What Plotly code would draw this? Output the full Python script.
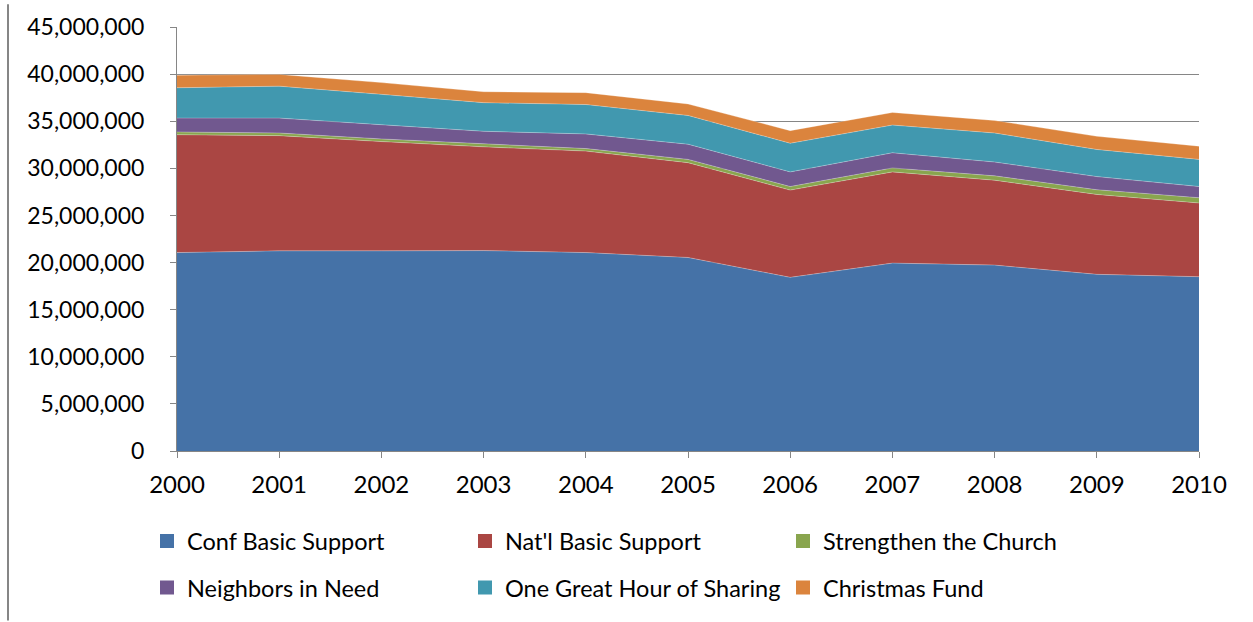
import plotly.graph_objects as go

years = [2000, 2001, 2002, 2003, 2004, 2005, 2006, 2007, 2008, 2009, 2010]
conf_basic = [21.06, 21.24, 21.24, 21.27, 21.06, 20.54, 18.43, 19.94, 19.73, 18.75, 18.50]
natl_basic = [12.51, 12.23, 11.60, 11.01, 10.77, 10.06, 9.26, 9.68, 9.01, 8.48, 7.82]
strengthen = [0.29, 0.28, 0.28, 0.32, 0.27, 0.35, 0.38, 0.42, 0.46, 0.50, 0.56]
neighbors = [1.47, 1.58, 1.51, 1.33, 1.55, 1.61, 1.55, 1.61, 1.47, 1.39, 1.19]
oghs = [3.22, 3.39, 3.22, 3.04, 3.12, 3.05, 3.04, 2.94, 3.08, 2.88, 2.88]
christmas = [1.33, 1.25, 1.25, 1.16, 1.26, 1.22, 1.34, 1.34, 1.33, 1.40, 1.40]

series = [
    ("Conf Basic Support", conf_basic, "#4572A7", "legend"),
    ("Nat'l Basic Support", natl_basic, "#AA4643", "legend"),
    ("Strengthen the Church", strengthen, "#89A54E", "legend"),
    ("Neighbors in Need", neighbors, "#71588F", "legend2"),
    ("One Great Hour of Sharing", oghs, "#4198AF", "legend2"),
    ("Christmas Fund", christmas, "#DB843D", "legend2"),
]

FONT = "Lato, 'Open Sans', Arial, sans-serif"
fig = go.Figure()
for name, vals, color, lg in series:
    fig.add_trace(go.Scatter(
        x=years, y=[v * 1e6 for v in vals], name=name, mode="lines",
        stackgroup="one", fillcolor=color,
        line=dict(width=0.6, color="rgba(255,255,255,0.45)"),
        showlegend=False, hoverinfo="x+y+name",
    ))
for name, vals, color, lg in series:
    fig.add_trace(go.Scatter(
        x=[None], y=[None], name=name, mode="markers",
        marker=dict(symbol="square", size=14, color=color),
        legend=lg, showlegend=True,
    ))

L, R, T, B = 177, 1199, 23, 451
W, H = 1253, 622
def px(x):
    return (x - L) / (R - L)
def py(y):
    return (B - y) / (B - T)

leg_common = dict(orientation="h", x=px(147), xanchor="left", yanchor="middle",
                  entrywidth=273, entrywidthmode="pixels", font=dict(size=23.5),
                  bgcolor="rgba(0,0,0,0)", itemclick=False, traceorder="normal")

fig.update_layout(
    width=W, height=H,
    margin=dict(l=L, r=W - R, t=T, b=H - B),
    paper_bgcolor="white", plot_bgcolor="white",
    font=dict(family=FONT, size=23, color="black"),
    legend=dict(y=py(542), **leg_common),
    legend2=dict(y=py(589), **leg_common),
    xaxis=dict(range=[2000, 2010], tickmode="array", tickvals=years,
               ticktext=[str(y) for y in years], showgrid=False,
               showline=True, linecolor="#868686", linewidth=1,
               ticks="outside", ticklen=6, tickcolor="#868686",
               ticklabelstandoff=6, zeroline=False, tickfont=dict(size=24)),
    yaxis=dict(range=[0, 45e6], dtick=5e6, tickformat=",d",
               showgrid=True, gridcolor="#868686", gridwidth=1.2,
               showline=True, linecolor="#868686", linewidth=1,
               ticks="outside", ticklen=6, tickcolor="#868686",
               ticklabelstandoff=21, zeroline=False, tickfont=dict(size=23)),
    shapes=[dict(type="line", xref="paper", yref="paper",
                 x0=px(8), x1=px(8), y0=py(0), y1=py(622),
                 line=dict(color="#868686", width=2))],
)

fig.write_html("out.html", config={"displayModeBar": False})
with open("out.html", "r", encoding="utf-8") as f:
    html = f.read()
html = html.replace("<body>", '<body style="margin:0;padding:0;">', 1)
with open("out.html", "w", encoding="utf-8") as f:
    f.write(html)
